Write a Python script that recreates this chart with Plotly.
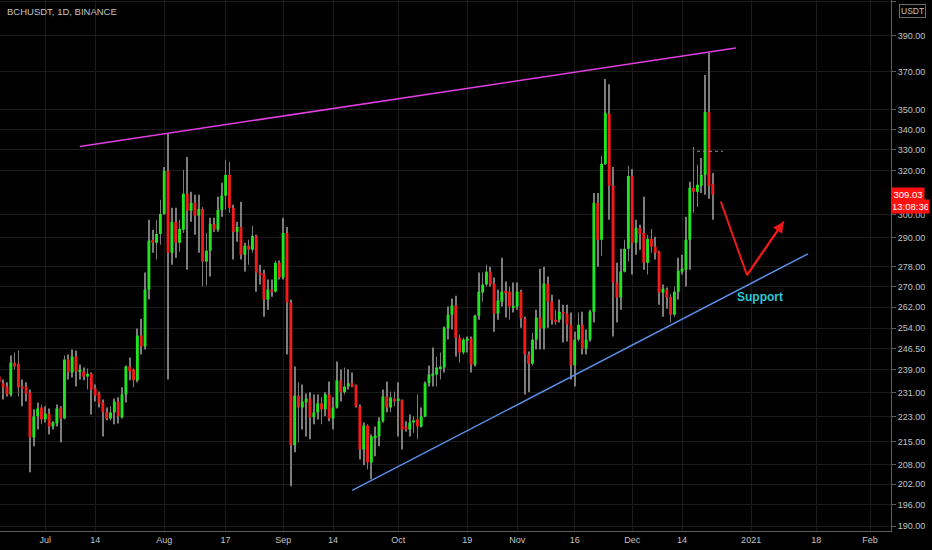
import math
import pandas as pd
import plotly.graph_objects as go

# ---------------- data ----------------
dates = pd.date_range("2020-06-19", "2020-12-22", freq="D")

opens = [
    236.6, 234.3, 233.2, 230.5, 241.5, 241.1, 233.2, 233.2, 231.2, 216.4, 223.2, 226.1,
    222.2, 224.1, 219.9, 220.9, 226.1, 222.5, 242.6, 238.0, 243.7, 238.4, 238.4, 236.6,
    237.6, 232.5, 230.8, 227.8, 224.5, 222.5, 224.5, 228.1, 222.9, 230.5, 240.1, 239.1,
    235.3, 251.3, 247.3, 268.8, 289.2, 287.9, 291.7,
    300.4, 319.9, 283.7, 296.9, 287.9, 293.5, 309.4, 301.8, 305.3, 299.6, 302.6, 280.1,
    284.6, 296.0, 293.5, 302.2, 308.5, 318.1, 303.1, 292.6, 294.7, 282.9, 286.7, 285.0,
    290.9, 275.6, 275.2, 264.9, 268.8, 268.0, 279.6,
    273.6, 292.1, 263.7, 213.9, 230.1, 226.1, 227.8, 229.1, 222.9, 224.5, 227.5, 225.5,
    230.5, 222.5, 226.1, 235.3, 231.2, 233.2, 234.3, 233.6, 226.5, 212.6, 220.2, 208.6,
    216.4, 216.7, 221.6, 229.8, 226.1, 229.1,
    228.5, 228.5, 219.9, 218.9, 221.2, 222.2, 219.9, 223.2, 234.3, 236.9, 237.3, 239.4,
    239.8, 253.9, 259.1, 262.6, 250.5, 245.1, 249.4, 250.2, 240.8, 258.7, 267.6, 270.8,
    276.0, 271.2, 259.5, 264.1, 268.0, 268.0, 261.8,
    262.2, 268.0, 257.6, 244.4, 241.1, 249.8, 258.0, 253.9, 271.2, 264.1, 257.2, 257.2,
    260.2, 259.5, 255.3, 240.5, 249.8, 255.3, 246.5, 249.8, 260.2, 305.3, 289.2, 323.3,
    347.9, 313.0, 271.6, 265.7, 276.0, 285.4,
    317.6, 287.9, 294.3, 292.1, 279.6, 289.6, 286.3, 284.2, 267.6, 268.8, 266.0, 259.1,
    268.0, 276.0, 276.8, 289.2, 312.1, 310.3, 313.0, 318.1, 348.9, 313.9,
]
highs = [
    238.4, 235.6, 234.6, 244.0, 245.1, 245.8, 235.6, 234.6, 232.2, 225.5, 227.8, 227.1,
    226.5, 225.8, 221.6, 227.1, 226.5, 244.0, 244.4, 246.2, 245.8, 240.8, 239.8, 239.4,
    238.0, 233.9, 231.5, 228.8, 226.1, 226.5, 229.1, 229.5, 232.9, 240.5, 243.3, 239.4,
    253.9, 257.6, 275.6, 297.8, 293.5, 297.8, 306.7,
    321.8, 338.3, 303.1, 303.1, 297.8, 320.4, 326.6, 310.3, 308.9, 308.9, 303.5, 292.1,
    298.7, 298.7, 308.0, 314.4, 325.2, 324.2, 304.4, 296.9, 305.8, 287.9, 289.2, 295.2,
    291.3, 278.8, 276.8, 272.8, 272.8, 280.5, 280.5,
    298.7, 294.7, 264.9, 240.1, 234.6, 233.9, 230.8, 231.2, 230.5, 230.5, 229.5, 231.2,
    234.9, 229.5, 241.9, 239.1, 239.8, 239.1, 238.0, 233.9, 227.1, 221.2, 220.6, 217.3,
    219.9, 222.9, 232.2, 234.9, 231.5, 231.5,
    234.6, 228.8, 221.6, 223.8, 223.2, 230.5, 226.1, 234.9, 240.5, 246.9, 243.7, 245.1,
    254.6, 262.2, 265.3, 266.4, 251.6, 250.5, 250.9, 250.9, 259.1, 275.6, 275.6, 278.8,
    278.0, 273.6, 268.8, 281.7, 272.0, 270.0, 271.6,
    271.6, 268.8, 258.3, 245.5, 252.3, 261.0, 277.2, 278.0, 274.0, 266.8, 261.0, 264.9,
    262.9, 262.9, 259.9, 252.7, 259.9, 260.2, 253.5, 261.0, 309.8, 309.8, 327.1, 366.1,
    363.4, 321.8, 279.6, 285.4, 289.2, 322.3,
    320.9, 297.8, 295.6, 308.0, 291.3, 293.9, 290.5, 284.6, 270.8, 269.6, 267.2, 270.0,
    281.7, 282.9, 299.1, 314.9, 331.4, 322.8, 326.1, 368.3, 380.4, 319.0,
]
lows = [
    232.9, 228.8, 229.8, 229.8, 239.1, 229.8, 226.5, 228.1, 205.6, 213.6, 218.9, 220.6,
    221.2, 217.3, 218.9, 219.9, 214.8, 222.2, 235.6, 236.3, 233.2, 235.6, 235.3, 232.2,
    223.8, 228.1, 226.1, 216.7, 221.9, 221.9, 220.6, 220.9, 222.5, 227.8, 235.3, 232.9,
    234.6, 244.4, 246.2, 264.9, 283.7, 280.9, 287.1,
    300.0, 235.6, 278.8, 281.7, 284.2, 292.1, 276.8, 296.9, 291.3, 283.7, 270.0, 270.4,
    274.0, 292.6, 292.6, 299.1, 302.2, 300.9, 280.9, 288.4, 280.9, 276.0, 278.8, 283.7,
    268.0, 270.8, 258.3, 261.0, 266.0, 267.6, 272.8,
    272.8, 244.4, 201.4, 211.7, 214.8, 218.9, 216.7, 215.8, 220.6, 222.2, 220.6, 223.2,
    221.6, 218.9, 225.8, 228.1, 230.5, 232.2, 232.9, 226.1, 209.5, 207.7, 206.5, 203.5,
    210.5, 213.6, 221.2, 224.5, 224.5, 226.5,
    216.7, 212.6, 218.3, 216.7, 217.9, 215.8, 219.6, 222.9, 233.2, 233.2, 233.2, 235.6,
    238.0, 249.8, 253.5, 243.7, 241.5, 244.4, 245.1, 238.0, 240.1, 257.2, 264.1, 270.0,
    270.0, 252.7, 257.2, 262.2, 258.0, 257.2, 259.9,
    261.0, 254.2, 230.5, 231.2, 240.5, 246.2, 246.2, 246.2, 254.2, 255.3, 255.3, 256.1,
    248.7, 249.1, 235.6, 233.2, 249.1, 244.4, 244.4, 249.1, 256.1, 278.0, 282.5, 322.8,
    297.8, 250.9, 256.1, 261.0, 275.6, 280.1,
    274.8, 282.9, 285.0, 276.8, 274.8, 283.7, 280.9, 262.9, 258.3, 261.4, 256.1, 258.3,
    264.9, 274.8, 270.0, 276.8, 300.9, 303.5, 309.8, 308.9, 307.1, 297.8,
]
closes = [
    234.6, 232.9, 230.5, 241.5, 240.1, 232.9, 232.5, 230.8, 216.4, 223.2, 225.8, 222.2,
    224.1, 219.9, 221.2, 225.8, 222.5, 242.6, 238.0, 243.7, 238.4, 238.7, 236.6, 237.6,
    232.2, 230.1, 227.5, 224.5, 222.5, 224.5, 228.1, 223.2, 230.5, 240.1, 238.4, 235.3,
    251.3, 247.3, 268.8, 288.8, 287.9, 291.7, 300.4,
    319.9, 283.7, 296.9, 287.9, 293.9, 309.4, 301.8, 305.3, 299.6, 302.6, 280.1, 284.6,
    296.0, 293.5, 302.2, 308.5, 318.1, 303.1, 292.6, 294.7, 282.9, 286.7, 285.0, 290.9,
    275.6, 274.8, 264.9, 268.8, 268.0, 279.6, 273.6,
    292.1, 263.7, 213.9, 230.1, 226.1, 228.1, 229.1, 222.9, 224.5, 227.5, 225.5, 230.5,
    222.5, 226.1, 235.3, 231.2, 233.2, 234.3, 233.2, 226.5, 212.6, 220.2, 208.6, 216.7,
    216.7, 221.6, 229.8, 226.1, 229.5, 228.1,
    228.8, 218.9, 218.9, 221.2, 221.9, 219.9, 223.2, 234.3, 237.3, 237.6, 239.8, 240.1,
    254.2, 259.1, 262.6, 250.5, 245.1, 249.8, 250.2, 240.8, 258.7, 268.0, 270.8, 276.0,
    270.8, 259.5, 264.5, 268.0, 267.6, 262.2, 262.2,
    268.0, 257.6, 244.4, 241.1, 249.8, 258.0, 253.9, 271.2, 264.1, 257.2, 256.5, 260.2,
    259.5, 255.3, 240.5, 249.8, 255.3, 246.5, 249.8, 260.2, 305.3, 289.2, 323.3, 348.4,
    313.0, 271.6, 265.7, 276.0, 285.4, 317.6,
    287.9, 294.3, 291.7, 279.6, 289.6, 286.3, 283.7, 267.6, 269.2, 265.7, 259.1, 268.0,
    276.4, 277.2, 289.2, 312.1, 310.3, 313.5, 318.1, 348.9, 313.0, 309.03,
]

x_tick_vals = ["2020-07-01", "2020-07-14", "2020-08-01", "2020-08-17", "2020-09-01",
               "2020-09-14", "2020-10-01", "2020-10-19", "2020-11-01", "2020-11-16",
               "2020-12-01", "2020-12-14", "2021-01-01", "2021-01-18", "2021-02-01"]
x_tick_text = ["Jul", "14", "Aug", "17", "Sep", "14", "Oct", "19", "Nov", "16",
               "Dec", "14", "2021", "18", "Feb"]
y_tick_vals = [190, 196, 202, 208, 215, 223, 231, 239, 246.5, 254, 262, 270, 278,
               290, 300, 320, 330, 340, 350, 370, 390, 410]

resistance_x = ["2020-07-10", "2020-12-28"]
resistance_y = [331.6, 383.2]
support_x = ["2020-09-19", "2021-01-15 20:00"]
support_y = [200.2, 283.3]
path_x = ["2020-12-24 02:00", "2020-12-30 22:00", "2021-01-09 12:00"]
path_y = [305.9, 274.6, 297.0]
prev_level_x = ["2020-12-17 22:00", "2020-12-24 16:00"]
prev_level_y = [329.3, 329.3]
support_label_x = "2021-01-03 08:00"
support_label_y = 266.0
last_price = 309.03
countdown = "13:08:36"
title_text = "BCHUSDT, 1D, BINANCE"

# ---------------- styling ----------------
BG = "#000000"
GRID = "#1b1b1b"
AXIS = "#5d5d5d"
TXT = "#c3c3c3"
UP = "#1fe41f"
DOWN = "#f21a1a"
WICK = "#7c7c7c"
FONT = "Liberation Sans Narrow, Liberation Sans, Arial, sans-serif"
DAY_MS = 86400000

assert len(opens) == len(highs) == len(lows) == len(closes) == len(dates)

fig = go.Figure()

# wicks (thin bars so that bodies can be layered above them)
fig.add_trace(go.Bar(
    x=dates, y=[h - l for h, l in zip(highs, lows)], base=lows,
    width=0.2 * DAY_MS, marker=dict(color=WICK, line=dict(width=0)),
    hoverinfo="skip"))

# bodies
bases, heights, colors = [], [], []
for o, c in zip(opens, closes):
    lo, hi = min(o, c), max(o, c)
    hgt = max(hi - lo, lo * 0.0025)
    bases.append(lo)
    heights.append(hgt)
    colors.append(UP if c >= o else DOWN)
fig.add_trace(go.Bar(x=dates, y=heights, base=bases, width=0.76 * DAY_MS,
                     marker=dict(color=colors, line=dict(width=0))))

# trend lines
fig.add_trace(go.Scatter(x=resistance_x, y=resistance_y, mode="lines",
                         line=dict(color="#e03ee0", width=1.5)))
fig.add_trace(go.Scatter(x=support_x, y=support_y, mode="lines",
                         line=dict(color="#5a8fe8", width=1.5)))
fig.add_trace(go.Scatter(x=prev_level_x, y=prev_level_y, mode="lines",
                         line=dict(color="#8f95a8", width=1, dash="dot")))
fig.add_trace(go.Scatter(x=path_x, y=path_y, mode="lines",
                         line=dict(color="#f01818", width=2)))

annotations = [
    dict(x=path_x[2], y=math.log10(path_y[2]), ax=path_x[1], ay=math.log10(path_y[1]),
         xref="x", yref="y", axref="x", ayref="y", text="", showarrow=True,
         arrowhead=2, arrowsize=1.1, arrowwidth=2, arrowcolor="#f01818", standoff=0),
    dict(x=support_label_x, y=math.log10(support_label_y), xref="x", yref="y",
         text="<b>Support</b>", showarrow=False,
         font=dict(color="#2ec8d8", size=12, family=FONT)),
    dict(x=0.006, y=1, xref="paper", yref="paper", xanchor="left", yanchor="top",
         yshift=-4, text=title_text, showarrow=False,
         font=dict(color=TXT, size=9.5, family=FONT)),
    dict(x=1, y=math.log10(last_price), xref="paper", yref="y", xanchor="left",
         yanchor="middle", text=f"{last_price:.2f}", showarrow=False,
         bgcolor="#ff1010", borderpad=1, width=30,
         font=dict(color="#ffffff", size=9.5, family=FONT)),
    dict(x=1, y=math.log10(last_price), xref="paper", yref="y", xanchor="left",
         yanchor="middle", yshift=-12, text=countdown, showarrow=False,
         bgcolor="#ff1010", borderpad=1, width=35,
         font=dict(color="#ffffff", size=9.5, family=FONT)),
    dict(x=1.0236, y=1, xref="paper", yref="paper", xanchor="center", yanchor="top",
         yshift=-4, text="USDT", showarrow=False, bgcolor=BG, bordercolor="#6a6a6a",
         borderwidth=1, borderpad=1, font=dict(color=TXT, size=8.5, family=FONT)),
]

fig.update_layout(
    width=932, height=550, autosize=False,
    margin=dict(l=0, r=41, t=0, b=19),
    paper_bgcolor=BG, plot_bgcolor=BG, showlegend=False,
    barmode="overlay",
    annotations=annotations,
    font=dict(family=FONT, color=TXT, size=9),
    xaxis=dict(type="date", range=["2020-06-19 04:33", "2021-02-06 11:00"],
               tickmode="array", tickvals=x_tick_vals, ticktext=x_tick_text,
               showgrid=True, gridcolor=GRID, gridwidth=1, zeroline=False,
               showline=True, linecolor=AXIS, linewidth=1, ticks="",
               tickfont=dict(size=9, color=TXT, family=FONT), fixedrange=True),
    yaxis=dict(type="log", side="right",
               range=[math.log10(188.63), math.log10(411.15)],
               tickmode="array", tickvals=y_tick_vals,
               ticktext=[f"{v:.2f}" for v in y_tick_vals],
               showgrid=True, gridcolor=GRID, gridwidth=1, zeroline=False,
               showline=True, linecolor=AXIS, linewidth=1,
               ticks="outside", ticklen=4, tickcolor=AXIS,
               tickfont=dict(size=9, color=TXT, family=FONT), fixedrange=True),
)

fig.write_html(
    "out.html",
    config={"displayModeBar": False},
    post_script="document.body.style.margin='0';document.body.style.background='#000';",
)
